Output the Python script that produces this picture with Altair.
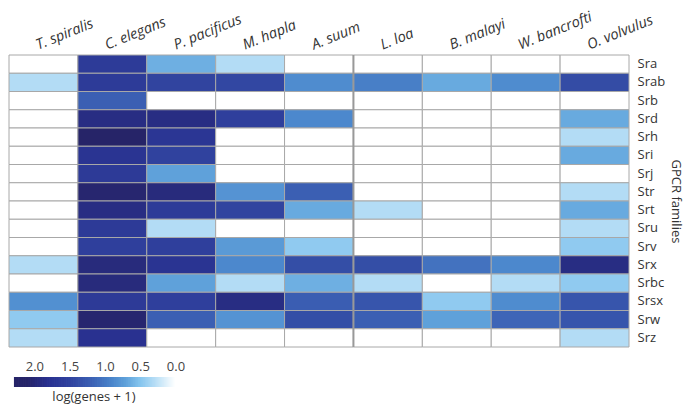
import altair as alt
import pandas as pd
import numpy as np

species = ["T. spiralis", "C. elegans", "P. pacificus", "M. hapla", "A. suum",
           "L. loa", "B. malayi", "W. bancrofti", "O. volvulus"]
families = ["Sra", "Srab", "Srb", "Srd", "Srh", "Sri", "Srj", "Str", "Srt",
            "Sru", "Srv", "Srx", "Srbc", "Srsx", "Srw", "Srz"]

# log(genes + 1) per species, in family order above
t_spiralis   = [0, 0.3, 0, 0, 0, 0, 0, 0, 0, 0, 0, 0.3, 0, 0.82, 0.45, 0.3]
c_elegans    = [1.62, 1.62, 1.2, 1.9, 2.1, 1.75, 1.65, 2.05, 1.9, 1.65, 1.55, 1.95, 1.95, 1.65, 2.05, 1.8]
p_pacificus  = [0.62, 1.48, 0, 1.9, 1.72, 1.5, 0.7, 1.95, 1.62, 0.3, 1.55, 1.75, 0.7, 1.55, 1.2, 0]
m_hapla      = [0.3, 1.45, 0, 1.55, 0, 0, 0, 0.8, 1.48, 0, 0.75, 0.88, 0.3, 1.9, 0.8, 0]
a_suum       = [0, 0.85, 0, 0.88, 0, 0, 0, 1.2, 0.65, 0, 0.45, 1.38, 0.62, 1.22, 1.38, 0]
l_loa        = [0, 0.95, 0, 0, 0, 0, 0, 0, 0.3, 0, 0, 1.38, 0.3, 1.3, 1.2, 0]
b_malayi     = [0, 0.65, 0, 0, 0, 0, 0, 0, 0, 0, 0, 1.05, 0, 0.45, 0.7, 0]
w_bancrofti  = [0, 0.85, 0, 0, 0, 0, 0, 0, 0, 0, 0, 0.88, 0.3, 0.85, 1.15, 0]
o_volvulus   = [0, 1.4, 0, 0.65, 0.3, 0.65, 0, 0.3, 0.65, 0.3, 0.45, 1.9, 0.45, 1.3, 1.3, 0.3]

series = [t_spiralis, c_elegans, p_pacificus, m_hapla, a_suum,
          l_loa, b_malayi, w_bancrofti, o_volvulus]

legend_ticks = [2.0, 1.5, 1.0, 0.5, 0.0]

rows = []
for sp, vals in zip(species, series):
    for fam, v in zip(families, vals):
        rows.append({"species": sp, "family": fam, "value": v})
df = pd.DataFrame(rows)

color_domain = [0, 0.3, 0.5, 0.7, 0.9, 1.2, 1.5, 1.8, 2.1]
color_range = ["#ffffff", "#b3dcf5", "#84c4ee", "#5fa1da", "#4a85cb",
               "#3b5fb3", "#30429e", "#293190", "#262468"]
color_scale = alt.Scale(domain=color_domain, range=color_range, clamp=True, interpolate="rgb")

W, H = 620, 292

heat = alt.Chart(df).mark_rect(stroke="#a8a8a8", strokeWidth=1).encode(
    x=alt.X("species:N", sort=species,
            scale=alt.Scale(paddingInner=0, paddingOuter=0),
            axis=alt.Axis(orient="top", title=None, labelAngle=-22, labelAlign="left",
                          labelBaseline="bottom", labelFontStyle="italic", labelFontSize=14.5,
                          ticks=False, domain=False, labelPadding=3, labelOffset=-4,
                          labelColor="#333333")),
    y=alt.Y("family:N", sort=families,
            scale=alt.Scale(paddingInner=0, paddingOuter=0),
            axis=alt.Axis(orient="right", title="GPCR families", titleAngle=90,
                          ticks=False, domain=False, labelFontSize=13, labelPadding=8,
                          titlePadding=4, titleFontSize=13, titleFontWeight="normal",
                          labelColor="#333333", titleColor="#333333")),
    color=alt.Color("value:Q", scale=color_scale, legend=None),
)

sep = alt.Chart(pd.DataFrame({"species": ["L. loa"]})).mark_rule(
    color="#999999", strokeWidth=2).encode(
    x=alt.X("species:N", sort=species, bandPosition=0),
    y=alt.value(0), y2=alt.value(H),
)

top = alt.layer(heat, sep).properties(width=W, height=H)

leg_vals = np.round(np.arange(-0.05, 2.28, 0.01), 3)
leg_df = pd.DataFrame({"v": leg_vals, "v2": leg_vals + 0.02})

legend = alt.Chart(leg_df).mark_rect().encode(
    x=alt.X("v:Q", scale=alt.Scale(domain=[-0.05, 2.36], nice=False, zero=False, reverse=True),
            axis=alt.Axis(orient="top", values=legend_ticks, format=".1f", title=None,
                          domain=False, ticks=False, grid=False, labelFontSize=13,
                          labelPadding=4, labelColor="#444444")),
    x2="v2",
    color=alt.Color("v:Q", scale=color_scale, legend=None),
).properties(width=170, height=10,
             title=alt.TitleParams("log(genes + 1)", orient="bottom", fontSize=13,
                                   fontWeight="normal", anchor="middle", offset=4,
                                   color="#333333"))

chart = alt.vconcat(top, legend, spacing=12).resolve_scale(
    x="independent", color="shared"
).properties(
    padding={"left": 0, "right": 8, "top": 0, "bottom": 0}
).configure(font="Open Sans").configure_view(stroke=None)

chart.save("out.html", embed_options={"renderer": "svg", "actions": False})
